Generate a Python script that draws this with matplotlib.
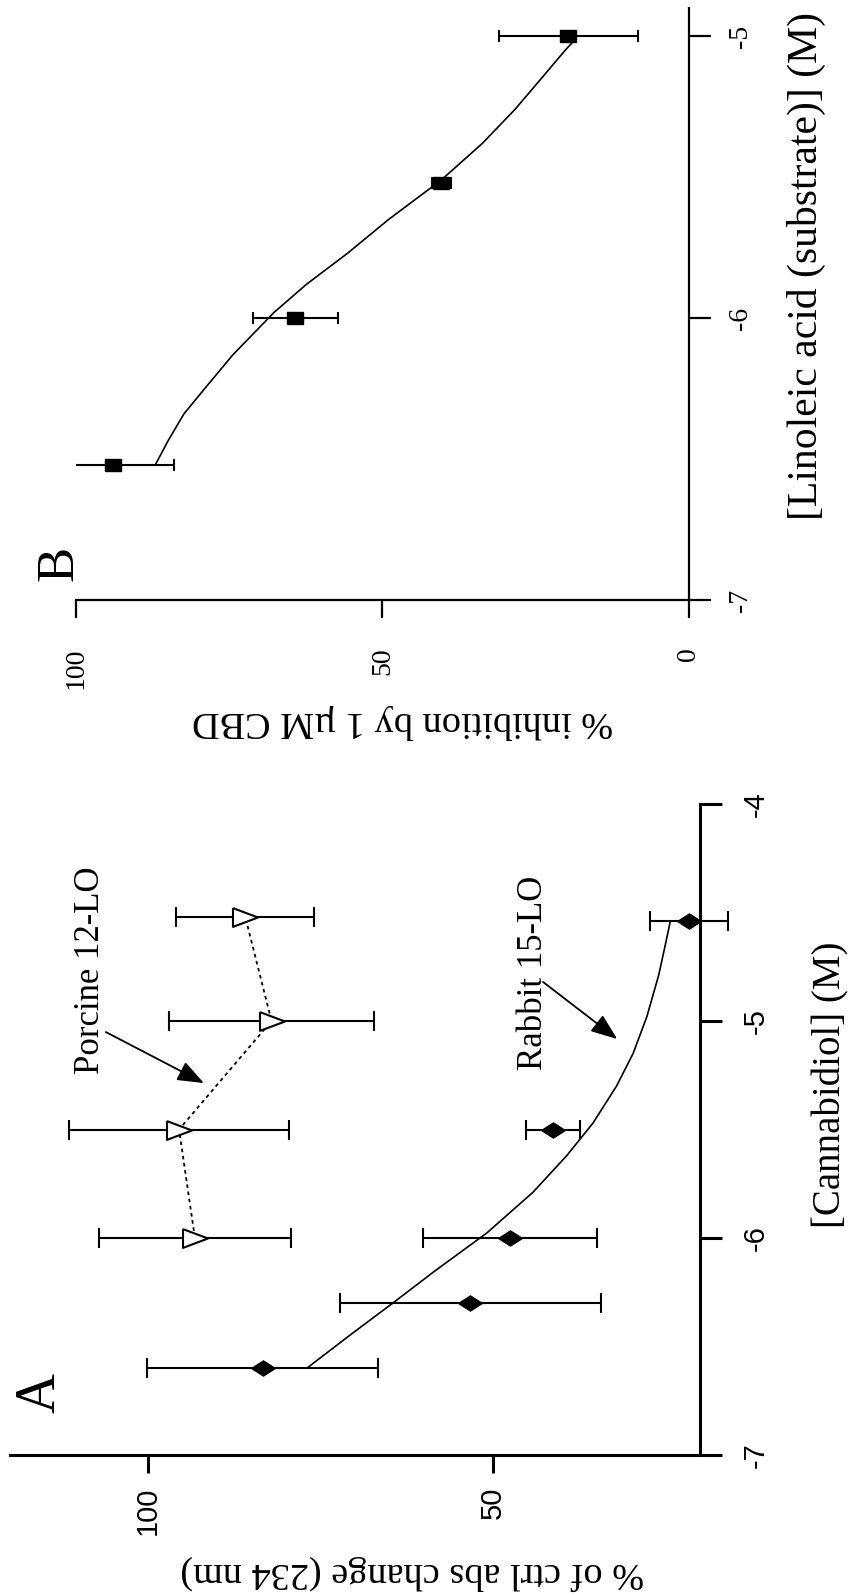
import matplotlib
matplotlib.use('Agg')
import matplotlib.pyplot as plt

# ---------------- data ----------------
# Panel A: log10 [Cannabidiol] (M) vs % of ctrl abs change (234 nm)
rabbit_log_conc = [-6.6, -6.3, -6.0, -5.5, -4.54]
rabbit_pct = [83.4, 53.3, 47.6, 41.3, 21.6]
rabbit_err = [16.7, 18.9, 12.6, 3.9, 5.7]

porcine_log_conc = [-6.0, -5.5, -5.0, -4.52]
porcine_pct = [93.2, 95.5, 82.1, 85.9]
porcine_err = [13.9, 15.9, 14.9, 10.0]

rabbit_fit_log_conc = [-6.598, -6.447, -6.297, -6.156, -5.977, -5.789, -5.62,
                       -5.47, -5.30, -5.15, -4.98, -4.79, -4.66, -4.54]
rabbit_fit_pct = [76.9, 70.7, 64.4, 58.6, 50.9, 44.2, 39.3,
                  35.5, 32.1, 29.7, 27.7, 26.0, 25.1, 24.3]

# Panel B: log10 [Linoleic acid] (M) vs % inhibition by 1 uM CBD
la_log_conc = [-6.52, -6.0, -5.52, -5.0]
la_inhib = [94.0, 64.2, 40.4, 19.7]
la_err = [10.0, 7.0, 1.5, 11.3]

la_fit_log_conc = [-6.518, -6.436, -6.34, -6.25, -6.13, -5.98, -5.88, -5.77,
                   -5.65, -5.51, -5.38, -5.26, -5.14, -5.055, -5.014]
la_fit_inhib = [87.0, 85.0, 82.4, 79.0, 74.4, 67.7, 62.4, 55.7,
                49.0, 40.4, 33.7, 28.4, 23.7, 20.4, 18.7]

a_conc_ticks = [-7, -6, -5, -4]
a_pct_ticks = [50, 100]
b_conc_ticks = [-7, -6, -5]
b_pct_ticks = [0, 50, 100]

# ---------------- style ----------------
plt.rcParams['font.family'] = ['Liberation Serif', 'DejaVu Serif']
plt.rcParams['axes.unicode_minus'] = False

W, H = 854, 1596
fig = plt.figure(figsize=(W / 100, H / 100), dpi=100)


def fx(px):
    return px / W


def fy(py):
    return 1 - py / H


diamond = [(-1.0, 0.0), (0.0, 0.64), (1.0, 0.0), (0.0, -0.64), (-1.0, 0.0)]
tri_right = [(-1.0, 0.75), (1.0, 0.0), (-1.0, -0.75), (-1.0, 0.75)]
rect = [(-1.0, -0.75), (1.0, -0.75), (1.0, 0.75), (-1.0, 0.75), (-1.0, -0.75)]

# ---------------- panel A (rotated: value leftwards, conc upwards) ----------------
axA = fig.add_axes([fx(10), fy(1455), (700 - 10) / W, (1455 - 804) / H])
axA.set_xlim(120, 20)
axA.set_ylim(-7, -4)
for s in ['left', 'top']:
    axA.spines[s].set_visible(False)
for s in ['bottom', 'right']:
    axA.spines[s].set_linewidth(2.2)
axA.yaxis.set_ticks_position('right')
axA.set_xticks(a_pct_ticks)
axA.set_yticks(a_conc_ticks)
axA.tick_params(axis='x', direction='out', length=13, width=2.2, pad=10,
                labelsize=21, labelrotation=90)
axA.tick_params(axis='y', direction='out', length=16, width=2.2, pad=14,
                labelsize=21, labelrotation=90, right=True, labelright=True,
                left=False, labelleft=False)
for lbl in axA.get_xticklabels() + axA.get_yticklabels():
    lbl.set_fontfamily('Liberation Sans')
for lbl in axA.get_yticklabels():
    lbl.set_va('center')

axA.plot(rabbit_fit_pct, rabbit_fit_log_conc, color='black', lw=1.2, zorder=2)
axA.errorbar(rabbit_pct, rabbit_log_conc, xerr=rabbit_err, linestyle='none',
             marker=diamond, ms=17, mfc='black', mec='black', ecolor='black',
             elinewidth=1.5, capsize=7, capthick=1.5, clip_on=False, zorder=3)

axA.plot(porcine_pct, porcine_log_conc, linestyle=(0, (2, 2)), color='black',
         lw=1.3, zorder=2)
axA.errorbar(porcine_pct, porcine_log_conc, xerr=porcine_err, linestyle='none',
             marker=tri_right, ms=18, mfc='white', mec='black', mew=1.5,
             ecolor='black', elinewidth=1.5, capsize=7, capthick=1.5, zorder=3)

arrow_style = dict(arrowstyle='-|>,head_length=0.65,head_width=0.25',
                   color='black', lw=1.3, mutation_scale=25,
                   shrinkA=0, shrinkB=0)
axA.text(108.4, -4.765, 'Porcine 12-LO', rotation=90, fontsize=25,
         ha='center', va='center')
axA.annotate('', xy=(91.9, -5.286), xytext=(106.1, -5.051), arrowprops=arrow_style)
axA.text(44.1, -4.779, 'Rabbit 15-LO', rotation=90, fontsize=25,
         ha='center', va='center')
axA.annotate('', xy=(32.0, -5.083), xytext=(42.75, -4.82), arrowprops=arrow_style)

# ---------------- panel B ----------------
axB = fig.add_axes([fx(76), fy(600), (689 - 76) / W, (600 - 8) / H])
axB.set_xlim(100, 0)
axB.set_ylim(-7, -4.9)
for s in ['left', 'top']:
    axB.spines[s].set_visible(False)
for s in ['bottom', 'right']:
    axB.spines[s].set_linewidth(1.6)
axB.yaxis.set_ticks_position('right')
axB.set_xticks(b_pct_ticks)
axB.set_yticks(b_conc_ticks)
axB.tick_params(axis='x', direction='out', length=13, width=1.6, pad=21,
                labelsize=20, labelrotation=90)
axB.tick_params(axis='y', direction='out', length=16, width=1.6, pad=12,
                labelsize=20, labelrotation=90, right=True, labelright=True,
                left=False, labelleft=False)
for lbl in axB.get_yticklabels():
    lbl.set_va('center')

axB.plot(la_fit_inhib, la_fit_log_conc, color='black', lw=1.2, zorder=2)
axB.errorbar(la_inhib, la_log_conc, xerr=la_err, linestyle='none',
             marker=rect, ms=11, mfc='black', mec='black', ecolor='black',
             elinewidth=1.5, capsize=4.5, capthick=1.5, zorder=3)

# ---------------- labels ----------------
fig.text(fx(41), fy(1393), 'A', fontsize=40, rotation=90, ha='center', va='center')
fig.text(fx(59), fy(563), 'B', fontsize=38, rotation=90, ha='center', va='center')
fig.text(fx(412), fy(1573), '% of ctrl abs change (234 nm)', fontsize=27.5,
         rotation=180, ha='center', va='center')
fig.text(fx(831), fy(1085), '[Cannabidiol] (M)', fontsize=28, rotation=90,
         ha='center', va='center')
fig.text(fx(403), fy(722), '% inhibition by 1 \u00b5M CBD', fontsize=27.5,
         rotation=180, ha='center', va='center')
fig.text(fx(806), fy(266), '[Linoleic acid (substrate)] (M)', fontsize=30,
         rotation=90, ha='center', va='center')

fig.savefig('out.png', dpi=100)
